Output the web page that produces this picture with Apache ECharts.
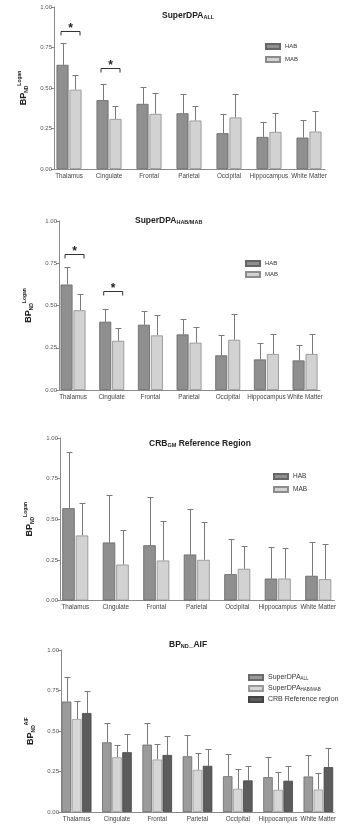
<!DOCTYPE html>
<html>
<head>
<meta charset="utf-8">
<script src="https://cdn.jsdelivr.net/npm/echarts@6/dist/echarts.min.js"></script>
<style>
  html, body { margin: 0; background: #fff; }
  #chart { width: 362px; height: 834px; }
</style>
</head>
<body>
<div id="chart"></div>
<script>
const categories = ['Thalamus', 'Cingulate', 'Frontal', 'Parietal', 'Occipital', 'Hippocampus', 'White Matter'];
const yTicks = [0, 0.25, 0.5, 0.75, 1];

// panel 1: SuperDPA ALL (mean, SD)
const allHab = [0.643, 0.425, 0.402, 0.344, 0.221, 0.198, 0.194];
const allHabSd = [0.134, 0.099, 0.103, 0.116, 0.119, 0.095, 0.109];
const allMab = [0.489, 0.309, 0.340, 0.299, 0.318, 0.229, 0.231];
const allMabSd = [0.092, 0.077, 0.128, 0.087, 0.146, 0.115, 0.128];
const allSigIdx = [0, 1];
const allSigLevel = [0.852, 0.623];

// panel 2: SuperDPA HAB/MAB
const hmHab = [0.624, 0.404, 0.386, 0.329, 0.205, 0.181, 0.175];
const hmHabSd = [0.102, 0.074, 0.081, 0.094, 0.120, 0.095, 0.091];
const hmMab = [0.472, 0.291, 0.323, 0.280, 0.297, 0.213, 0.213];
const hmMabSd = [0.099, 0.073, 0.118, 0.090, 0.152, 0.118, 0.116];
const hmSigIdx = [0, 1];
const hmSigLevel = [0.803, 0.583];

// panel 3: CRB GM reference region
const crbHab = [0.568, 0.357, 0.340, 0.283, 0.162, 0.135, 0.152];
const crbHabSd = [0.346, 0.293, 0.295, 0.283, 0.219, 0.197, 0.211];
const crbMab = [0.400, 0.221, 0.246, 0.250, 0.195, 0.135, 0.131];
const crbMabSd = [0.198, 0.215, 0.244, 0.236, 0.143, 0.191, 0.219];

// panel 4: BP ND AIF
const aifAll = [0.682, 0.430, 0.416, 0.344, 0.221, 0.215, 0.219];
const aifAllSd = [0.150, 0.119, 0.133, 0.131, 0.136, 0.123, 0.133];
const aifHm = [0.574, 0.338, 0.324, 0.260, 0.143, 0.137, 0.139];
const aifHmSd = [0.110, 0.078, 0.096, 0.105, 0.123, 0.109, 0.099];
const aifCrb = [0.611, 0.369, 0.352, 0.285, 0.195, 0.193, 0.277];
const aifCrbSd = [0.135, 0.113, 0.115, 0.104, 0.088, 0.090, 0.121];

const chart = echarts.init(document.getElementById('chart'));

const FONT = '"Liberation Sans", Arial, sans-serif';
const AX = '#8a8a8a';
const ERR = '#7a7a7a';

const grid = [], xAxis = [], yAxis = [], series = [], title = [], legend = [];

const nameRich = {
  b: { fontSize: 9, fontWeight: 'bold', color: '#222', fontFamily: FONT, lineHeight: 12 },
  s: { fontSize: 5, fontWeight: 'bold', color: '#222', fontFamily: FONT, verticalAlign: 'bottom' },
  p: { fontSize: 5, fontWeight: 'bold', color: '#222', fontFamily: FONT, verticalAlign: 'top' }
};

function addPanel(cfg) {
  const fi = grid.length;
  const bi = fi + 1;
  const [fl, ft, fw, fh] = cfg.frame;
  grid.push({ left: fl, top: ft, width: fw, height: fh });
  grid.push({ left: cfg.band[0], top: ft, width: cfg.band[1], height: fh });

  // frame axes
  xAxis.push({
    gridIndex: fi, type: 'value', min: 0, max: 1,
    axisLine: { show: true, lineStyle: { color: AX } },
    axisTick: { show: false }, axisLabel: { show: false }, splitLine: { show: false }
  });
  yAxis.push({
    gridIndex: fi, type: 'value', min: 0, max: 1, interval: 0.25,
    axisLine: { show: true, lineStyle: { color: AX } },
    axisTick: { show: true, length: 3, lineStyle: { color: AX } },
    axisLabel: { fontSize: 6, color: '#555', margin: 2, fontFamily: FONT,
      formatter: v => yTicks.includes(v) ? v.toFixed(2) : '' },
    splitLine: { show: false },
    name: cfg.yName, nameLocation: 'middle', nameGap: cfg.nameGap, nameRotate: 90,
    nameTextStyle: { rich: nameRich }
  });

  // bar axes
  xAxis.push({
    gridIndex: bi, type: 'category', data: categories,
    axisLine: { show: false }, axisTick: { show: false },
    axisLabel: { interval: 0, fontSize: 6.3, color: '#444', margin: 4, fontFamily: FONT }
  });
  yAxis.push({ gridIndex: bi, type: 'value', min: 0, max: 1, show: false });

  const n = cfg.groups.length;
  cfg.groups.forEach((g, k) => {
    series.push({
      type: 'bar', name: g.name, xAxisIndex: bi, yAxisIndex: bi,
      data: g.values, barWidth: cfg.barWidth, barGap: cfg.barGap,
      itemStyle: { color: g.color, borderColor: g.border, borderWidth: 0.8 },
      z: 2, silent: true
    });
    const off = (k - (n - 1) / 2) * cfg.barWidth * (1 + parseFloat(cfg.barGap) / 100);
    series.push({
      type: 'custom', xAxisIndex: bi, yAxisIndex: bi, silent: true, z: 1,
      data: g.values.map((v, i) => [i, v, g.sd[i]]),
      renderItem: (params, api) => {
        const i = api.value(0);
        const base = api.coord([i, api.value(1)]);
        const top = api.coord([i, api.value(1) + api.value(2)]);
        const x = Math.round(base[0] + off) + 0.5;
        const y = Math.round(top[1]) + 0.5;
        const st = { stroke: ERR, lineWidth: 1 };
        return {
          type: 'group', children: [
            { type: 'line', shape: { x1: x, y1: base[1], x2: x, y2: y }, style: st },
            { type: 'line', shape: { x1: x - 3, y1: y, x2: x + 3, y2: y }, style: st }
          ]
        };
      }
    });
  });

  if (cfg.sigIdx) {
    series.push({
      type: 'custom', xAxisIndex: bi, yAxisIndex: bi, silent: true, z: 3,
      data: cfg.sigIdx.map((c, i) => [c, cfg.sigLevel[i]]),
      renderItem: (params, api) => {
        const p = api.coord([api.value(0), api.value(1)]);
        const y = Math.round(p[1]) + 0.5;
        const x1 = p[0] - 8, x2 = p[0] + 11;
        return {
          type: 'group', children: [
            { type: 'polyline', shape: { points: [[x1, y + 4], [x1, y], [x2, y], [x2, y + 4]] },
              style: { stroke: '#333', lineWidth: 1, fill: null } },
            { type: 'text', style: { text: '*', x: p[0] + 1.5, y: y - 3, align: 'center',
              verticalAlign: 'middle', font: 'bold 12px ' + FONT, fill: '#222' } }
          ]
        };
      }
    });
  }

  title.push({
    left: cfg.titlePos[0], top: cfg.titlePos[1], text: cfg.title, padding: 0,
    textStyle: { rich: {
      b: { fontSize: 8.5, fontWeight: 'bold', color: '#222', fontFamily: FONT },
      s: { fontSize: 5.5, fontWeight: 'bold', color: '#222', fontFamily: FONT, verticalAlign: 'bottom' }
    } }
  });

  legend.push({
    data: cfg.groups.map(g => g.name), orient: 'vertical', padding: 0,
    left: cfg.legendPos[0], top: cfg.legendPos[1],
    itemWidth: 14, itemHeight: 5, itemGap: cfg.legendGap, icon: 'rect', selectedMode: false,
    formatter: name => {
      const parts = name.split('_');
      return parts[1] ? `{n|${parts[0]}}{s|${parts[1]}}` : `{n|${name}}`;
    },
    textStyle: { rich: {
      n: { fontSize: cfg.legendFont, color: '#333', fontFamily: FONT },
      s: { fontSize: 4.5, color: '#333', fontFamily: FONT, verticalAlign: 'bottom' }
    } }
  });
}

const HAB = { color: '#8f8f8f', border: '#666' };
const MAB = { color: '#d2d2d2', border: '#8c8c8c' };

addPanel({
  frame: [54, 7, 271, 162], band: [49, 280], barWidth: 12, barGap: '8%',
  yName: '{b|BP}{s|ND}{p|Logan}', nameGap: 20,
  title: '{b|SuperDPA}{s|ALL}', titlePos: [162, 11],
  legendPos: [265, 43], legendGap: 6, legendFont: 6,
  groups: [
    { name: 'HAB', values: allHab, sd: allHabSd, ...HAB },
    { name: 'MAB', values: allMab, sd: allMabSd, ...MAB }
  ],
  sigIdx: allSigIdx, sigLevel: allSigLevel
});

addPanel({
  frame: [59, 221, 261, 169], band: [53.7, 270.7], barWidth: 12, barGap: '8%',
  yName: '{b|BP}{s|ND}{p|Logan}', nameGap: 22,
  title: '{b|SuperDPA}{s|HAB/MAB}', titlePos: [135, 216],
  legendPos: [245, 260], legendGap: 4, legendFont: 6,
  groups: [
    { name: 'HAB', values: hmHab, sd: hmHabSd, ...HAB },
    { name: 'MAB', values: hmMab, sd: hmMabSd, ...MAB }
  ],
  sigIdx: hmSigIdx, sigLevel: hmSigLevel
});

addPanel({
  frame: [60, 438, 274.5, 162.5], band: [55, 283.5], barWidth: 12.5, barGap: '8%',
  yName: '{b|BP}{s|ND}{p|Logan}', nameGap: 23,
  title: '{b|CRB}{s|GM}{b| Reference Region}', titlePos: [149, 439.5],
  legendPos: [273, 473], legendGap: 6, legendFont: 6.5,
  groups: [
    { name: 'HAB', values: crbHab, sd: crbHabSd, ...HAB },
    { name: 'MAB', values: crbMab, sd: crbMabSd, ...MAB }
  ]
});

addPanel({
  frame: [61, 650, 273, 162], band: [56.5, 282], barWidth: 9.5, barGap: '6%',
  yName: '{b|BP}{s|ND}{p|AIF}', nameGap: 22,
  title: '{b|BP}{s|ND}{b|_AIF}', titlePos: [169, 640],
  legendPos: [248, 674], legendGap: 4, legendFont: 7,
  groups: [
    { name: 'SuperDPA_ALL', values: aifAll, sd: aifAllSd, color: '#9b9b9b', border: '#6a6a6a' },
    { name: 'SuperDPA_HAB/MAB', values: aifHm, sd: aifHmSd, color: '#d6d6d6', border: '#999' },
    { name: 'CRB Reference region', values: aifCrb, sd: aifCrbSd, color: '#5c5c5c', border: '#444' }
  ]
});

chart.setOption({
  animation: false,
  backgroundColor: '#fff',
  textStyle: { fontFamily: FONT },
  title, legend, grid, xAxis, yAxis, series
});
</script>
</body>
</html>
